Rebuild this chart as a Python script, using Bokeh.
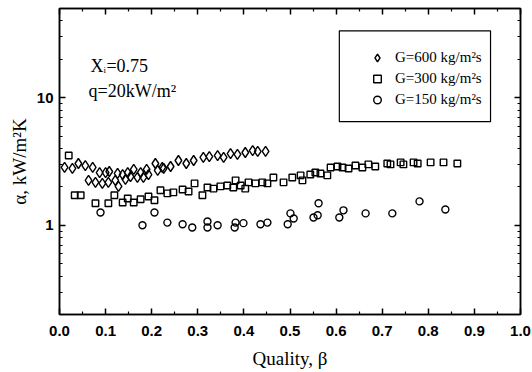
from bokeh.plotting import figure
from bokeh.models import (Range1d, FixedTicker, PrintfTickFormatter, LinearAxis, LogAxis,
                          Legend, LegendItem, BoxAnnotation, Label)
from bokeh.embed import file_html
from bokeh.resources import INLINE

# ---- data ----
g600_x = [0.011, 0.028, 0.041, 0.056, 0.072, 0.087, 0.100, 0.108, 0.126, 0.137, 0.148, 0.161,
          0.176, 0.189, 0.208, 0.223, 0.241, 0.258, 0.275, 0.291, 0.312, 0.325, 0.343, 0.356,
          0.371, 0.386, 0.403, 0.419, 0.430, 0.447,
          0.063, 0.078, 0.093, 0.106, 0.121, 0.128, 0.143, 0.154, 0.169, 0.182, 0.193, 0.213, 0.226]
g600_y = [2.84, 2.79, 3.05, 2.94, 2.84, 2.59, 2.59, 2.64, 2.55, 2.50, 2.59, 2.74,
          2.59, 2.74, 3.05, 2.84, 2.89, 3.22, 3.05, 3.22, 3.40, 3.46, 3.52, 3.40,
          3.65, 3.59, 3.72, 3.85, 3.79, 3.79,
          2.25, 2.17, 2.13, 2.17, 2.25, 2.02, 2.29, 2.41, 2.37, 2.37, 2.50, 2.69, 2.79]

g300_x = [0.020, 0.033, 0.046, 0.078, 0.106, 0.119, 0.137, 0.148, 0.161, 0.176, 0.193, 0.206,
          0.219, 0.234, 0.247, 0.267, 0.280, 0.293, 0.310, 0.321, 0.334, 0.349, 0.364, 0.377,
          0.382, 0.393, 0.403, 0.410, 0.425, 0.440, 0.451, 0.464, 0.486, 0.505, 0.523, 0.527,
          0.544, 0.555, 0.566, 0.581, 0.588, 0.603, 0.614, 0.627, 0.642, 0.657, 0.670, 0.685,
          0.711, 0.718, 0.740, 0.746, 0.768, 0.777, 0.805, 0.833, 0.863]
g300_y = [3.52, 1.72, 1.72, 1.49, 1.49, 1.72, 1.51, 1.62, 1.51, 1.60, 1.68, 1.57,
          1.88, 1.78, 1.81, 1.91, 1.84, 2.13, 1.72, 1.98, 1.94, 2.02, 2.05, 1.98,
          2.25, 2.05, 1.94, 2.17, 2.13, 2.17, 2.13, 2.37, 2.17, 2.37, 2.46, 2.25,
          2.50, 2.59, 2.55, 2.46, 2.84, 2.89, 2.84, 2.79, 2.94, 2.84, 3.00, 2.89,
          3.05, 3.00, 3.11, 3.00, 3.11, 3.05, 3.11, 3.11, 3.05]

g150_x = [0.089, 0.180, 0.206, 0.234, 0.267, 0.288, 0.321, 0.321, 0.343, 0.382, 0.380, 0.399,
          0.436, 0.451, 0.495, 0.501, 0.508, 0.551, 0.560, 0.562, 0.607, 0.616, 0.664, 0.722,
          0.781, 0.837]
g150_y = [1.26, 1.00, 1.26, 1.05, 1.02, 0.96, 1.07, 0.96, 1.00, 1.05, 0.96, 1.04,
          1.02, 1.05, 1.02, 1.24, 1.13, 1.15, 1.20, 1.49, 1.15, 1.31, 1.24, 1.24,
          1.54, 1.33]

series_labels = ["G=600 kg/m²s", "G=300 kg/m²s", "G=150 kg/m²s"]
x_ticks = [0.0, 0.1, 0.2, 0.3, 0.4, 0.5, 0.6, 0.7, 0.8, 0.9, 1.0]
y_ticks = [1, 10]

SERIF = "Liberation Serif"
SANS = "Liberation Sans"

p = figure(width=532, height=372, output_backend="svg", toolbar_location=None,
           y_axis_type="log", x_range=Range1d(0, 1.0), y_range=Range1d(0.2, 50),
           min_border_left=59, min_border_right=12, min_border_top=8, min_border_bottom=58)
p.background_fill_color = "white"
p.border_fill_color = "white"
p.xgrid.visible = False
p.ygrid.visible = False
p.outline_line_color = "black"
p.outline_line_width = 1.5

x_minor = [round(0.05 + 0.1 * i, 2) for i in range(10)]
y_minor = [0.2, 0.3, 0.4, 0.5, 0.6, 0.7, 0.8, 0.9, 2, 3, 4, 5, 6, 7, 8, 9, 20, 30, 40, 50]


def style_axis(ax):
    ax.axis_line_color = "black"
    ax.axis_line_width = 1.5
    ax.major_tick_line_color = "black"
    ax.minor_tick_line_color = "black"
    ax.major_tick_line_width = 1.5
    ax.minor_tick_line_width = 1.2
    ax.major_tick_in = 6
    ax.major_tick_out = 0
    ax.minor_tick_in = 3
    ax.minor_tick_out = 0
    ax.major_label_text_font = SANS
    ax.major_label_text_font_style = "bold"
    ax.major_label_text_font_size = "15px"
    ax.major_label_text_color = "black"


xa = p.xaxis[0]
xa.ticker = FixedTicker(ticks=x_ticks, minor_ticks=x_minor)
xa.formatter = PrintfTickFormatter(format="%.1f")
style_axis(xa)
xa.major_label_standoff = 11
xa.axis_label = "Quality, β"
xa.axis_label_text_font = SERIF
xa.axis_label_text_font_style = "normal"
xa.axis_label_text_font_size = "19px"
xa.axis_label_text_color = "black"
xa.axis_label_standoff = 9

ya = p.yaxis[0]
ya.ticker = FixedTicker(ticks=y_ticks, minor_ticks=y_minor)
ya.formatter = PrintfTickFormatter(format="%d")
style_axis(ya)
ya.major_label_standoff = 6
ya.axis_label = "α, kW/m²K"
ya.axis_label_text_font = SERIF
ya.axis_label_text_font_style = "normal"
ya.axis_label_text_font_size = "19px"
ya.axis_label_text_color = "black"
ya.axis_label_standoff = 4

top = LinearAxis(ticker=FixedTicker(ticks=x_ticks, minor_ticks=x_minor))
style_axis(top)
top.major_label_overrides = {t: "" for t in x_ticks}
top.major_label_standoff = 0
p.add_layout(top, "above")
right = LogAxis(ticker=FixedTicker(ticks=y_ticks, minor_ticks=y_minor))
style_axis(right)
right.major_label_overrides = {t: "" for t in y_ticks}
right.major_label_standoff = 0
p.add_layout(right, "right")

r1 = p.scatter(g600_x, g600_y, marker="diamond", size=10,
               fill_color=None, line_color="black", line_width=1.4)
r2 = p.scatter(g300_x, g300_y, marker="square", size=6.5,
               fill_color=None, line_color="black", line_width=1.4)
r3 = p.scatter(g150_x, g150_y, marker="circle", size=7,
               fill_color=None, line_color="black", line_width=1.4)

box = BoxAnnotation(left=0.607, right=0.935, top=33.4, bottom=6.49,
                    fill_alpha=0, line_color="black", line_alpha=1, line_width=1.2)
p.add_layout(box)

legend = Legend(items=[LegendItem(label=series_labels[0], renderers=[r1]),
                       LegendItem(label=series_labels[1], renderers=[r2]),
                       LegendItem(label=series_labels[2], renderers=[r3])],
                location=(303, 205), padding=0, margin=0,
                border_line_alpha=0, background_fill_alpha=0,
                glyph_width=30, glyph_height=19, label_height=19, spacing=2,
                label_standoff=3, label_text_font=SERIF, label_text_font_size="15px",
                label_text_color="black")
p.add_layout(legend)

p.add_layout(Label(x=0.067, y=17.8, text="X", text_font=SERIF, text_font_size="18px",
                   text_baseline="alphabetic", text_color="black"))
p.add_layout(Label(x=0.067, y=17.8, x_offset=13, y_offset=-4, text="i", text_font=SERIF,
                   text_font_size="9px", text_baseline="alphabetic", text_color="black"))
p.add_layout(Label(x=0.067, y=17.8, x_offset=16, text="=0.75", text_font=SERIF,
                   text_font_size="18px", text_baseline="alphabetic", text_color="black"))
p.add_layout(Label(x=0.063, y=11.3, text="q=20kW/m²", text_font=SERIF, text_font_size="18px",
                   text_baseline="alphabetic", text_color="black"))

open("out.html", "w").write(file_html(p, INLINE))
